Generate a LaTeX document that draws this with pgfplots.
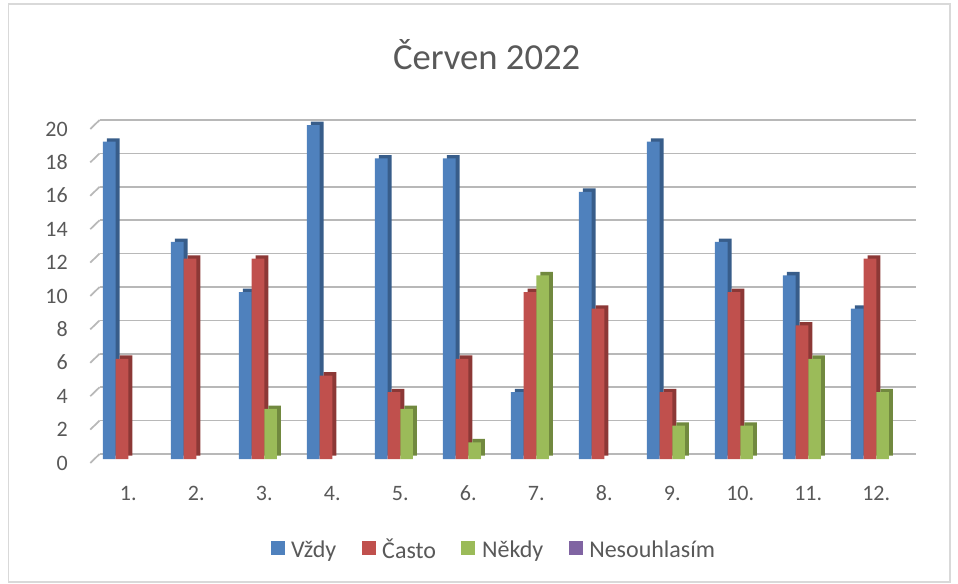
\documentclass[border=0pt]{standalone}
\usepackage{fontspec}
\setmainfont{Carlito}
\usepackage{pgfplots}
\usepackage{pgfplotstable}
\pgfplotsset{compat=1.18}

\definecolor{txt}{HTML}{595959}
\definecolor{cBlue}{HTML}{4F81BD}
\definecolor{cRed}{HTML}{C0504D}
\definecolor{cGreen}{HTML}{9BBB59}
\definecolor{cPurple}{HTML}{8064A2}
\definecolor{dBlue}{HTML}{385D8A}
\definecolor{dRed}{HTML}{8C3836}
\definecolor{dGreen}{HTML}{71893F}

% cat, Vzdy, Casto, Nekdy, Nesouhlasim
\pgfplotstableread{
cat v c n s
0 19 6 0 0
1 13 12 0 0
2 10 12 3 0
3 20 5 0 0
4 18 4 3 0
5 18 6 1 0
6 4 10 11 0
7 16 9 0 0
8 19 4 2 0
9 13 10 2 0
10 11 8 6 0
11 9 12 4 0
}\datatable

\begin{document}
\begin{tikzpicture}
\path[use as bounding box] (0,0) rectangle (718.5pt,437.25pt);
\draw[color=black!15, line width=0.8pt] (6.4pt,0.75pt) rectangle (712.5pt,434.25pt);
\node[anchor=base, text=txt, font=\fontsize{27.5}{32}\selectfont] at (365pt,384.75pt) {Červen 2022};

\begin{axis}[
  at={(70.7pt,93pt)}, anchor=south west,
  scale only axis, width=612pt, height=250.5pt,
  ybar, bar width=0.187, clip=false,
  enlargelimits=false,
  xmin=-0.5, xmax=11.5, ymin=0, ymax=20,
  xtick={0,...,11},
  xticklabels={1.,2.,3.,4.,5.,6.,7.,8.,9.,10.,11.,12.},
  ytick={0,2,...,20},
  /pgf/number format/assume math mode=true,
  axis line style={draw=none},
  major tick length=0pt,
  ymajorgrids,
  major grid style={draw=black!28, line width=1.3pt, xshift=4pt, yshift=3.75pt},
  tick label style={text=txt, font=\fontsize{16.5}{20}\selectfont},
  xticklabel style={anchor=base, yshift=-30.75pt},
  yticklabel style={anchor=base east, inner sep=0pt, xshift=-19.7pt, yshift=-8.25pt},
  unbounded coords=discard,
  y filter/.expression={y==0 ? nan : y},
  legend columns=4,
  legend style={at={(axis description cs:0.49,-0.2725)}, anchor=center, draw=none,
    font=\fontsize{18}{21}\selectfont, text=txt,
    /tikz/every odd column/.append style={column sep=3pt},
    /tikz/every even column/.append style={column sep=17pt}},
  legend image code/.code={\fill[#1] (0pt,-4pt) rectangle (10.5pt,6.5pt);},
]
\pgfplotsinvokeforeach{0,2,...,20}{
  \draw[black!28, line width=1.3pt] ([xshift=-3pt,yshift=-3pt]axis cs:-0.5,#1) -- ([xshift=4pt,yshift=3.75pt]axis cs:-0.5,#1);
}
% Vzdy
\addplot[fill=dBlue, draw=none, bar shift=-0.2805, xshift=3pt, yshift=2.5pt, forget plot] table[x=cat,y=v] {\datatable};
\addplot[fill=cBlue, draw=none, bar shift=-0.2805] table[x=cat,y=v] {\datatable};
\addlegendentry{Vždy}
% Casto
\addplot[fill=dRed, draw=none, bar shift=-0.0935, xshift=3pt, yshift=2.5pt, forget plot] table[x=cat,y=c] {\datatable};
\addplot[fill=cRed, draw=none, bar shift=-0.0935] table[x=cat,y=c] {\datatable};
\addlegendentry{Často}
% Nekdy
\addplot[fill=dGreen, draw=none, bar shift=0.0935, xshift=3pt, yshift=2.5pt, forget plot] table[x=cat,y=n] {\datatable};
\addplot[fill=cGreen, draw=none, bar shift=0.0935] table[x=cat,y=n] {\datatable};
\addlegendentry{Někdy}
% Nesouhlasim (all zero, nothing visible)
\addplot[fill=cPurple, draw=none, bar shift=0.2805, forget plot] table[x=cat,y=s] {\datatable};
\addlegendimage{fill=cPurple, draw=none}
\addlegendentry{Nesouhlasím}
\end{axis}
\end{tikzpicture}
\end{document}
